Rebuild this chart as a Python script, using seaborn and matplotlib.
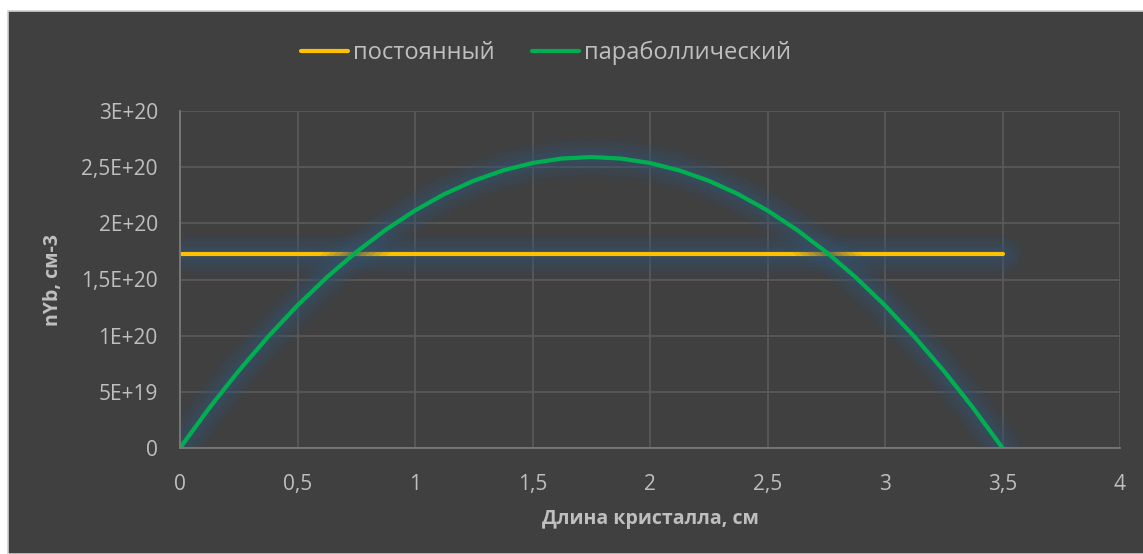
import matplotlib
matplotlib.use("Agg")
import matplotlib.pyplot as plt
import matplotlib.patheffects as pe
from matplotlib.patches import Rectangle
import seaborn as sns
import pandas as pd

# Crystal length, cm
length_cm = [0, 0.125, 0.25, 0.375, 0.5, 0.625, 0.75, 0.875, 1.0, 1.125, 1.25,
             1.375, 1.5, 1.625, 1.75, 1.875, 2.0, 2.125, 2.25, 2.375, 2.5,
             2.625, 2.75, 2.875, 3.0, 3.125, 3.25, 3.375, 3.5]

# Yb concentration, cm^-3 (units of 1E20)
constant_e20 = [1.727] * 29
parabolic_e20 = [0.0, 0.357, 0.687, 0.991, 1.269, 1.520, 1.744, 1.942, 2.114,
                 2.260, 2.379, 2.471, 2.537, 2.577, 2.590, 2.577, 2.537, 2.471,
                 2.379, 2.260, 2.114, 1.942, 1.744, 1.520, 1.269, 0.991, 0.687,
                 0.357, 0.0]

series_names = ["постоянный", "параболлический"]
series_colors = ["#FFC000", "#00B050"]

x_ticks = [0, 0.5, 1, 1.5, 2, 2.5, 3, 3.5, 4]
x_tick_labels = ["0", "0,5", "1", "1,5", "2", "2,5", "3", "3,5", "4"]
y_ticks = [0, 0.5e20, 1e20, 1.5e20, 2e20, 2.5e20, 3e20]
y_tick_labels = ["0", "5E+19", "1E+20", "1,5E+20", "2E+20", "2,5E+20", "3E+20"]

x_title = "Длина кристалла, см"
y_title = "nYb, см-3"

df = pd.DataFrame({
    "x": length_cm * 2,
    "y": [v * 1e20 for v in constant_e20] + [v * 1e20 for v in parabolic_e20],
    "series": [series_names[0]] * len(length_cm) + [series_names[1]] * len(length_cm),
})

sns.set_theme(style="dark")
plt.rcParams["font.family"] = ["Open Sans", "DejaVu Sans"]

BG = "#404040"
TEXT = "#BFBFBF"
GRID = "#595959"
AXIS = "#7A7A7A"

fig = plt.figure(figsize=(11.43, 5.54), dpi=100, facecolor="white")
fig.patches.append(Rectangle((8 / 1143, 0), 1, 1 - 11 / 554, transform=fig.transFigure,
                             facecolor=BG, edgecolor="#D0D0D0", linewidth=1.2, zorder=-10))

ax = fig.add_axes([180 / 1143, 1 - 448 / 554, 940 / 1143, 337 / 554])
ax.set_zorder(1)
ax.set_facecolor(BG)

sns.lineplot(data=df, x="x", y="y", hue="series", palette=series_colors,
             hue_order=series_names, sort=False, estimator=None, ax=ax,
             linewidth=3.0, legend=False)

# soft bluish glow under each line
glow = "#35536F"
for line in ax.get_lines():
    line.set_solid_capstyle("round")
    line.set_solid_joinstyle("round")
    line.set_path_effects([
        pe.Stroke(linewidth=30, foreground=glow, alpha=0.10, joinstyle="round", capstyle="round"),
        pe.Stroke(linewidth=24, foreground=glow, alpha=0.14, joinstyle="round", capstyle="round"),
        pe.Stroke(linewidth=18, foreground=glow, alpha=0.18, joinstyle="round", capstyle="round"),
        pe.Stroke(linewidth=12, foreground=glow, alpha=0.22, joinstyle="round", capstyle="round"),
        pe.Stroke(linewidth=7, foreground=glow, alpha=0.25, joinstyle="round", capstyle="round"),
        pe.Normal(),
    ])

ax.set_xlim(0, 4)
ax.set_ylim(0, 3e20)
ax.set_xticks(x_ticks)
ax.set_xticklabels(x_tick_labels)
ax.set_yticks(y_ticks)
ax.set_yticklabels(y_tick_labels)
ax.tick_params(axis="both", length=0, labelsize=15, labelcolor=TEXT)
ax.tick_params(axis="x", pad=19)
ax.tick_params(axis="y", pad=16)
ax.grid(True, color=GRID, linewidth=1.3)
ax.set_axisbelow(True)

for side in ["top", "right"]:
    ax.spines[side].set_visible(False)
for side in ["left", "bottom"]:
    ax.spines[side].set_visible(True)
    ax.spines[side].set_color(AXIS)
    ax.spines[side].set_linewidth(1.3)

ax.set_xlabel(x_title, fontsize=14, fontweight="bold", color=TEXT)
ax.set_ylabel(y_title, fontsize=14, fontweight="bold", color=TEXT)
ax.xaxis.set_label_coords(0.5, (448 - 509) / 337)
ax.yaxis.set_label_coords((63 - 180) / 940, 0.5)

handles = [plt.Line2D([], [], color=c, linewidth=3.0, solid_capstyle="round")
           for c in series_colors]
fig.legend(handles, series_names, loc="center", bbox_to_anchor=(546 / 1143, 1 - 53 / 554),
           ncol=2, frameon=False, fontsize=17, labelcolor=TEXT,
           handlelength=2.0, handletextpad=0.2, columnspacing=1.6)

fig.savefig("out.png", dpi=100, facecolor="white")
